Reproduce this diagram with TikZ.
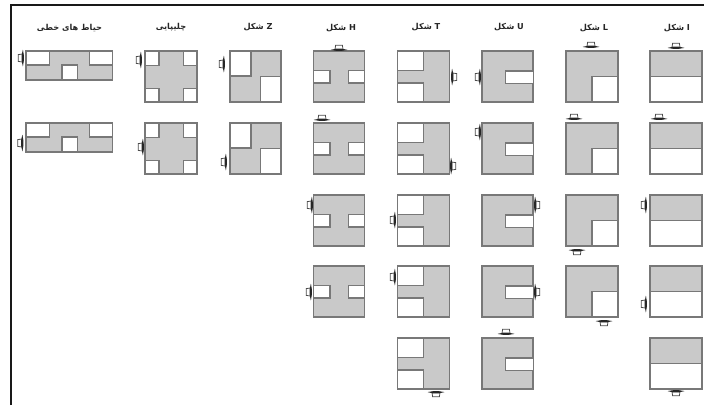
\documentclass[tikz,border=0pt]{standalone}
\usepackage{fontspec}
\usepackage{xcolor}
\usepackage{tikz}
\usetikzlibrary{positioning}
\TeXXeTstate=1
\newfontfamily\arabicfont[Script=Arabic]{DejaVu Sans}
\definecolor{hallgray}{gray}{0.79}
\definecolor{wallgray}{gray}{0.47}
\newcommand{\rtltext}[1]{\beginR #1\endR}
\def\lineheight{29}
\tikzset{
    title/.style={inner sep=0pt, font=\arabicfont\bfseries\fontsize{8.2}{9}\selectfont, text=black!85},
    hall/.style={draw=wallgray, line width=1.25pt, fill=hallgray},
    yard/.style={draw=wallgray, line width=1.25pt, fill=white},
    pics/ishape/.style={code={
        \draw[hall] (0,0) rectangle (52,51);
        \draw[yard] (0,25.5) rectangle (52,51);
    }},
    pics/lshape/.style={code={
        \draw[hall] (0,0) rectangle (52,51);
        \draw[yard] (26,25.5) rectangle (52,51);
    }},
    pics/ushape/.style={code={
        \draw[hall] (0,0) rectangle (51,51);
        \draw[yard] (51,20) -- (23.5,20) -- (23.5,32.5) -- (51,32.5);
    }},
    pics/tshape/.style={code={
        \draw[hall] (0,0) rectangle (52,51);
        \draw[yard] (0,0) rectangle (26,19.5);
        \draw[yard] (0,32) rectangle (26,51);
    }},
    pics/hshape/.style={code={
        \draw[hall] (0,0) rectangle (51,51);
        \draw[yard] (0,19.5) rectangle (16.5,32);
        \draw[yard] (35,19.5) rectangle (51,32);
    }},
    pics/zshape/.style={code={
        \draw[hall] (0,0) rectangle (51,51);
        \draw[yard] (0,0) rectangle (21,25);
        \draw[yard] (30.5,25.5) rectangle (51,51);
    }},
    pics/crossshape/.style={code={
        \draw[hall] (0,0) rectangle (52,51);
        \draw[yard] (0,0) rectangle (14,14.5);
        \draw[yard] (38.5,0) rectangle (52,14.5);
        \draw[yard] (0,37.5) rectangle (14,51);
        \draw[yard] (38.5,37.5) rectangle (52,51);
    }},
    pics/lineshape/.style={code={
        \draw[hall] (0,0) rectangle (86.5,\lineheight);
        \draw[yard] (0,0) rectangle (23.5,14);
        \draw[yard] (63.5,0) rectangle (86.5,14);
        \draw[yard] (36,14) rectangle (51.5,\lineheight);
    }},
    pics/gate/.style={code={
        \draw[line width=0.8pt, draw=black!70, fill=white]
            (-3.4,-3.8) -- (3.4,-3.8) -- (4,0.4) -- (-4,0.4) -- cycle;
        \fill[black!85] (-8.5,0.9) -- (-3,-0.3) -- (3,-0.3) -- (8.5,0.9) -- (3,1.8) -- (-3,1.8) -- cycle;
    }},
}
\begin{document}
\begin{tikzpicture}[x=1pt, y=-1pt]
    \useasboundingbox (0,0) rectangle (704,405);
    \draw[line width=2pt, black!90] (10.8,405) -- (10.8,5) -- (704,5);

    \node[title] (linetitle) at (69.5,28) {\rtltext{حیاط های خطی}};
    \node[title] (crosstitle) at (171,27) {\rtltext{چلیپایی}};
    \node[title] (ztitle) at (258,27) {\rtltext{Z شکل}};
    \node[title] (htitle) at (341,28) {\rtltext{H شکل}};
    \node[title] (ttitle) at (426,27) {\rtltext{T شکل}};
    \node[title] (utitle) at (509,27) {\rtltext{U شکل}};
    \node[title] (ltitle) at (594,28) {\rtltext{L شکل}};
    \node[title] (ititle) at (677,28) {\rtltext{I شکل}};

    \foreach \y in {51,123}
        \pic at (26,\y) {lineshape};
    \foreach \y in {51,123}
        \pic at (145,\y) {crossshape};
    \foreach \y in {51,123}
        \pic at (230,\y) {zshape};
    \foreach \y in {51,123,195,266}
        \pic at (313.5,\y) {hshape};
    \foreach \y in {51,123,195,266,338}
        \pic at (397.5,\y) {tshape};
    \foreach \y in {51,123,195,266,338}
        \pic at (482,\y) {ushape};
    \foreach \y in {51,123,195,266}
        \pic at (566,\y) {lshape};
    \foreach \y in {51,123,195,266,338}
        \pic at (650,\y) {ishape};

    \foreach \x/\y in {22/58, 21.5/143, 140/60, 142/147, 223/64, 225/162, 311/205, 310/292, 394/220, 394/277, 479/77, 479/132, 645/205, 645/304}
        \pic[rotate=90] at (\x,\y) {gate};
    \foreach \x/\y in {453/77, 452/166, 536/205, 536/292}
        \pic[rotate=-90] at (\x,\y) {gate};
    \foreach \x/\y in {339/49, 322/119, 506/333, 591/46, 574/118, 676/47, 659/118}
        \pic at (\x,\y) {gate};
    \foreach \x/\y in {436/393, 577/251, 604/322, 676/392}
        \pic[rotate=180] at (\x,\y) {gate};
\end{tikzpicture}
\end{document}
